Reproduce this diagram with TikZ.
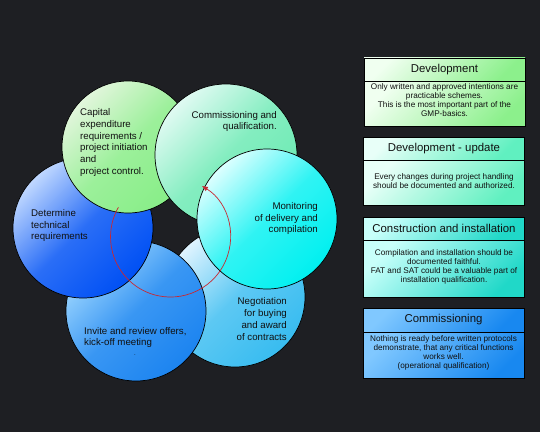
\documentclass[tikz,border=0pt]{standalone}
\usepackage{fontspec}
\setmainfont{Liberation Sans}
\usetikzlibrary{arrows.meta}
\definecolor{bgc}{RGB}{30,31,35}
\definecolor{txt}{RGB}{16,16,16}
\definecolor{arcred}{RGB}{200,40,50}
\definecolor{capA}{HTML}{E2F6DC}\definecolor{capB}{HTML}{88EE88}
\definecolor{comA}{HTML}{E0FAF2}\definecolor{comB}{HTML}{6AEAB2}
\definecolor{monA}{HTML}{DCFFFF}\definecolor{monB}{HTML}{00F0F0}
\definecolor{negA}{HTML}{E0F4FF}\definecolor{negB}{HTML}{38BCF0}
\definecolor{invA}{HTML}{A0D8FF}\definecolor{invB}{HTML}{1C84F0}
\definecolor{detA}{HTML}{C0D8FF}\definecolor{detB}{HTML}{0050F4}
\definecolor{bxoA}{HTML}{F0FFF0}\definecolor{bxoB}{HTML}{8CF08C}
\definecolor{bxtA}{HTML}{E8FFF8}\definecolor{bxtB}{HTML}{60F0C0}
\definecolor{bxhA}{HTML}{C8FFFA}\definecolor{bxhB}{HTML}{20D8C8}
\definecolor{bxfA}{HTML}{80C8FF}\definecolor{bxfB}{HTML}{1888F0}
\begin{document}
\begin{tikzpicture}[x=1pt,y=1pt,
  grad/.style 2 args={top color=#1, bottom color=#2, shading angle=45},
  cgrad/.style 2 args={top color=#1, bottom color=#2, middle color=#2!78!#1, shading angle=45},
  circ/.style={circle, draw=black, line width=0.7pt, inner sep=0pt, minimum size=#1},
  ctext/.style={font=\fontsize{9.7}{11.7}\selectfont, text=txt, inner sep=0pt},
  hbox/.style={rectangle, draw=black, line width=0.8pt, minimum width=161pt, minimum height=#1, inner sep=0pt},
  htext/.style={font=\fontsize{11.4}{13}\selectfont, text=txt},
  btext/.style={font=\fontsize{8.2}{9.1}\selectfont, text=txt, align=center, inner sep=0pt}
]
\fill[bgc] (0,0) rectangle (540,432);
\useasboundingbox (0,0) rectangle (540,432);

% circles (drawing order matters)
\node[circ=140pt, cgrad={negA}{negB}] (neg) at (235,135) {};
\node[circ=140pt, cgrad={invA}{invB}] (inv) at (136,121) {};
\node[circ=140pt, cgrad={detA}{detB}] (det) at (83,204) {};
\node[circ=132pt, cgrad={capA}{capB}] (cap) at (128,285) {};
\node[circ=142pt, cgrad={comA}{comB}] (com) at (226,277) {};
\node[circ=140pt, cgrad={monA}{monB}] (mon) at (267,213) {};

% circle texts
\node[ctext, align=left, anchor=west] (capt) at (80,289.5) {Capital\\expenditure\\requirements /\\project initiation\\and\\project control.};
\node[ctext, align=right, anchor=east] (comt) at (277,310.5) {Commissioning and\\qualification.};
\node[ctext, align=right, anchor=east] (mont) at (318,213.3) {Monitoring\\of delivery and\\compilation};
\node[ctext, align=left, anchor=west] (dett) at (31,206.3) {Determine\\technical\\requirements};
\node[ctext, align=right, anchor=east] (negt) at (287,113) {Negotiation\\for buying\\and award\\of contracts};
\node[ctext, align=left, anchor=west] (invt) at (84,94.5) {Invite and review offers,\\kick-off meeting};
\node[ctext, font=\fontsize{6}{7}\selectfont] (invdot) at (135,77) {.};

% red cycle arrow
\coordinate (arcstart) at (118.4,224.7);
\draw[arcred, line width=0.7pt, -{Latex[length=6pt,width=5pt]}] (arcstart) arc[start angle=150.3, end angle=418.5, radius=60];

% right boxes
\node[hbox=23pt, grad={bxoA}{bxoB}, htext] (b1h) at (444.5,362.5) {Development};
\node[hbox=45pt, grad={bxoA}{bxoB}, anchor=north] (b1b) at (b1h.south) {};
\node[btext] (b1t) at (444.5,332) {Only written and approved intentions are\\practicable schemes.\\This is the most important part of the\\GMP-basics.};

\node[hbox=23pt, grad={bxtA}{bxtB}, htext] (b2h) at (444,283.5) {Development - update};
\node[hbox=45pt, grad={bxtA}{bxtB}, anchor=north] (b2b) at (b2h.south) {};
\node[btext] (b2t) at (444,251) {Every changes during project handling\\should be documented and authorized.};

\node[hbox=23pt, grad={bxhA}{bxhB}, htext] (b3h) at (444,203.5) {Construction and installation};
\node[hbox=57pt, grad={bxhA}{bxhB}, anchor=north] (b3b) at (b3h.south) {};
\node[btext] (b3t) at (444,165) {Compilation and installation should be\\documented faithful.\\FAT and SAT could be a valuable part of\\installation qualification.};

\node[hbox=24pt, grad={bxfA}{bxfB}, htext] (b4h) at (443.5,112) {Commissioning};
\node[hbox=46pt, grad={bxfA}{bxfB}, anchor=north] (b4b) at (b4h.south) {};
\node[btext] (b4t) at (443.5,79) {Nothing is ready before written protocols\\demonstrate, that any critical functions\\works well.\\(operational qualification)};
\end{tikzpicture}
\end{document}
